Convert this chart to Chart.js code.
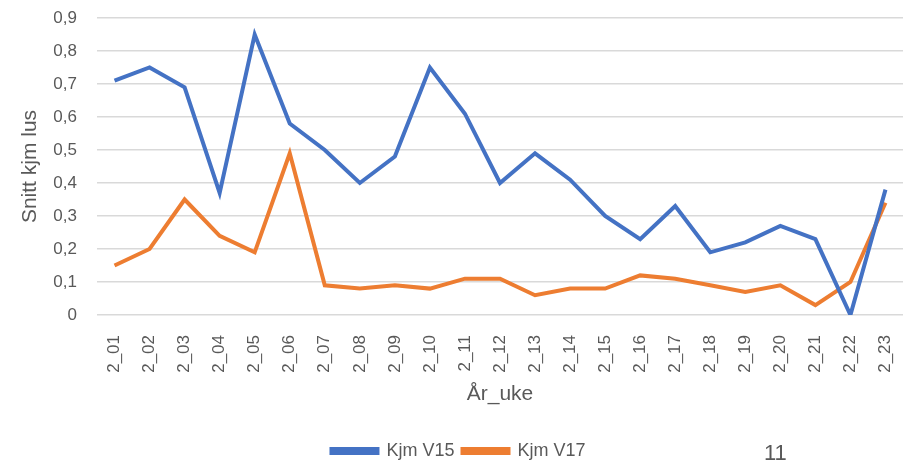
<!DOCTYPE html>
<html>
<head>
<meta charset="utf-8">
<script src="https://cdn.jsdelivr.net/npm/chart.js@4"></script>
<style>
  body { margin: 0; background: #fff; }
  #wrap { position: relative; width: 912px; height: 470px; }
  #page { position: absolute; left: 764px; top: 440px; font: 22px "Liberation Sans", sans-serif; color: #595959; }
</style>
</head>
<body>
<div id="wrap">
  <canvas id="chart" width="912" height="470"></canvas>
  <div id="page">11</div>
</div>
<script>
// Weeks (år_uke)
const weeks = ['2_01','2_02','2_03','2_04','2_05','2_06','2_07','2_08','2_09','2_10','2_11','2_12',
               '2_13','2_14','2_15','2_16','2_17','2_18','2_19','2_20','2_21','2_22','2_23'];

// Average lice per fish
const kjmV15 = [0.71, 0.75, 0.69, 0.37, 0.85, 0.58, 0.50, 0.40, 0.48, 0.75, 0.61, 0.40,
                0.49, 0.41, 0.30, 0.23, 0.33, 0.19, 0.22, 0.27, 0.23, 0.00, 0.38];
const kjmV17 = [0.15, 0.20, 0.35, 0.24, 0.19, 0.49, 0.09, 0.08, 0.09, 0.08, 0.11, 0.11,
                0.06, 0.08, 0.08, 0.12, 0.11, 0.09, 0.07, 0.09, 0.03, 0.10, 0.34];

const textColor = '#595959';
const family = '"Liberation Sans", sans-serif';
const titleFont = { family: family, size: 21 };

new Chart(document.getElementById('chart').getContext('2d'), {
  type: 'line',
  data: {
    labels: weeks,
    datasets: [
      { label: 'Kjm V15', data: kjmV15, borderColor: '#4472c4', backgroundColor: '#4472c4',
        borderWidth: 4, pointRadius: 0, tension: 0 },
      { label: 'Kjm V17', data: kjmV17, borderColor: '#ed7d31', backgroundColor: '#ed7d31',
        borderWidth: 4, pointRadius: 0, tension: 0 },
    ],
  },
  options: {
    responsive: false,
    animation: false,
    layout: { padding: { top: 8, right: 9, left: 14, bottom: 0 } },
    plugins: {
      legend: {
        position: 'bottom',
        labels: { color: textColor, font: { family: family, size: 18 }, boxWidth: 46, boxHeight: 4, padding: 8 },
      },
      tooltip: { enabled: false },
    },
    scales: {
      x: {
        offset: true,
        grid: { display: false },
        border: { display: false },
        ticks: { color: textColor, font: { family: family, size: 17 }, maxRotation: 90, minRotation: 90, autoSkip: false, padding: 12 },
        title: { display: true, text: 'År_uke', color: textColor, font: titleFont, padding: { top: 4, bottom: 27 } },
        afterFit: (s) => { s.height = 119; s.paddingLeft = 0; s.paddingRight = 0; },
      },
      y: {
        min: 0,
        max: 0.9,
        grid: { color: '#d9d9d9', lineWidth: 1.5, drawTicks: false },
        border: { display: false },
        ticks: {
          stepSize: 0.1, color: textColor, font: { family: family, size: 17 }, padding: 20,
          callback: (v) => (Math.round(v * 10) / 10).toString().replace('.', ','),
        },
        title: { display: true, text: 'Snitt kjm lus', color: textColor, font: titleFont },
        afterFit: (s) => { s.width = 83; s.paddingTop = 18; },
      },
    },
  },
});
</script>
</body>
</html>
